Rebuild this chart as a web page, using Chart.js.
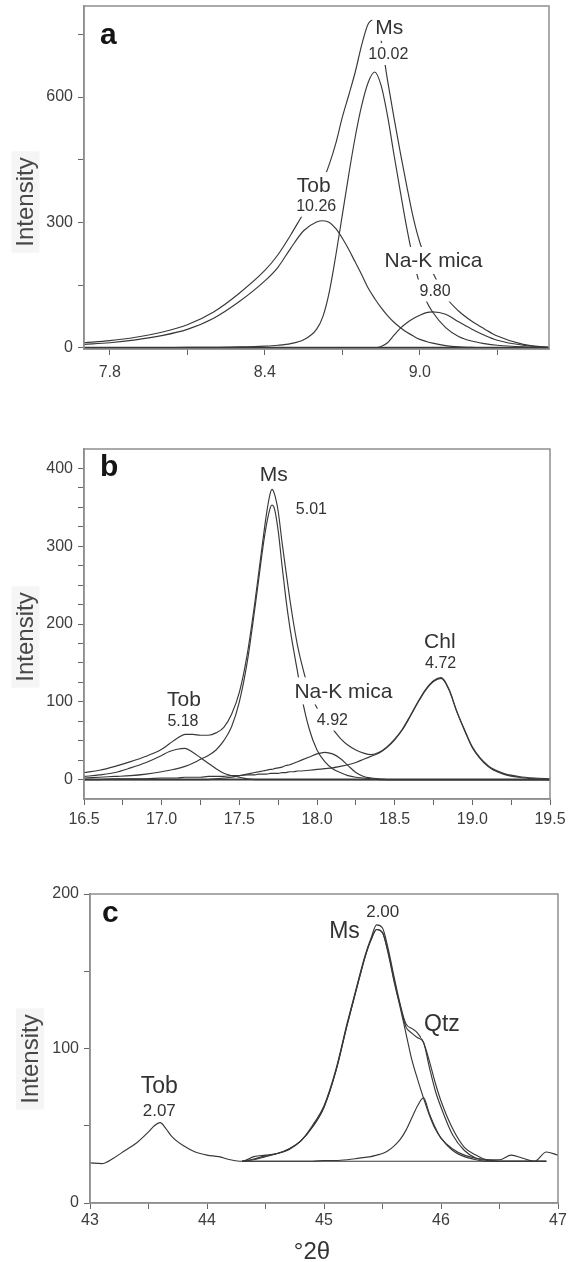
<!DOCTYPE html>
<html>
<head>
<meta charset="utf-8">
<script src="https://cdn.jsdelivr.net/npm/chart.js@4.4.0/dist/chart.umd.min.js"></script>
<style>
  body { margin: 0; background: #fff; }
  canvas { position: absolute; left: 0; }
</style>
</head>
<body>
<canvas id="chartA" width="573" height="400" style="top:0px"></canvas>
<canvas id="chartB" width="573" height="440" style="top:400px"></canvas>
<canvas id="chartC" width="573" height="422" style="top:840px"></canvas>
<script>
// ---- panel a (°2θ, intensity) ----
const aX = [7.70, 7.80, 7.90, 8.00, 8.10, 8.20, 8.30, 8.40, 8.45, 8.50, 8.55, 8.60, 8.625, 8.65, 8.675, 8.70, 8.725, 8.75, 8.775, 8.80, 8.825, 8.85, 8.875, 8.90, 8.925, 8.95, 8.975, 9.00, 9.025, 9.05, 9.10, 9.15, 9.20, 9.25, 9.30, 9.40, 9.50];
const aEnvelope = [12, 17, 25, 37, 55, 85, 130, 185, 222, 270, 322, 372, 400, 440, 490, 552, 605, 660, 725, 775, 785, 735, 640, 550, 465, 385, 310, 252, 212, 180, 122, 88, 64, 45, 28, 8, 1];
const aTob = [8, 12, 19, 29, 44, 70, 110, 160, 192, 238, 280, 301, 304, 300, 285, 262, 235, 205, 175, 143, 118, 96, 77, 61, 48, 37, 28, 20, 15, 11, 5, 2, 1, 0, 0, 0, 0];
const aMs = [0, 0, 0, 0, 1, 1, 2, 4, 6, 10, 19, 44, 75, 135, 222, 318, 415, 505, 580, 635, 660, 628, 555, 462, 372, 285, 210, 152, 112, 85, 48, 27, 16, 10, 6, 2, 0];
const aNaK = [0, 0, 0, 0, 0, 0, 0, 0, 0, 0, 0, 0, 0, 0, 0, 0, 0, 0, 0, 0, 0, 3, 12, 30, 47, 60, 70, 78, 84, 86, 80, 62, 45, 30, 18, 6, 1];
const aBaseX = [7.70, 9.50];
const aBase = [0, 0];
const aXTicks = [7.8, 8.1, 8.4, 8.7, 9.0, 9.3];
const aXLabels = [7.8, 8.4, 9.0];
const aYTicks = [0, 150, 300, 450, 600, 750];
const aYLabels = [0, 300, 600];
const aNotes = [
  { text: 'Ms', x: 8.882, y: 767, big: true },
  { text: '10.02', x: 8.878, y: 703 },
  { text: 'Tob', x: 8.589, y: 388, big: true },
  { text: '10.26', x: 8.599, y: 340 },
  { text: 'Na-K mica', x: 9.053, y: 209, big: true },
  { text: '9.80', x: 9.059, y: 137 }
];

// ---- panel b ----
const bX = [16.5, 16.6, 16.7, 16.8, 16.9, 17.0, 17.05, 17.1, 17.15, 17.2, 17.25, 17.3, 17.35, 17.4, 17.45, 17.5, 17.55, 17.6, 17.625, 17.65, 17.675, 17.7, 17.71, 17.725, 17.75, 17.775, 17.8, 17.825, 17.85, 17.875, 17.9, 17.95, 18.0, 18.05, 18.1, 18.15, 18.2, 18.25, 18.3, 18.35, 18.4, 18.45, 18.5, 18.55, 18.6, 18.65, 18.7, 18.75, 18.8, 18.85, 18.9, 18.95, 19.0, 19.1, 19.2, 19.3, 19.4, 19.5];
const bEnvelope = [9, 12, 17, 23, 30, 39, 46, 53, 58, 58, 57, 57, 60, 67, 84, 112, 160, 228, 266, 305, 342, 369, 373, 368, 345, 305, 268, 232, 200, 172, 150, 114, 92, 76, 65, 53, 44, 38, 34, 32, 35, 42, 52, 65, 82, 100, 116, 127, 131, 116, 88, 64, 42, 18, 8, 4, 2, 1];
const bMs = [2, 3, 4, 5, 7, 10, 12, 14, 17, 21, 26, 31, 38, 50, 68, 100, 150, 220, 258, 296, 328, 350, 353, 349, 320, 275, 232, 196, 166, 138, 108, 65, 38, 23, 14, 9, 5, 3, 2, 1, 0, 0, 0, 0, 0, 0, 0, 0, 0, 0, 0, 0, 0, 0, 0, 0, 0, 0];
const bTob = [4, 6, 9, 15, 22, 31, 36, 39, 40, 35, 28, 21, 14, 8, 5, 3, 1, 0, 0, 0, 0, 0, 0, 0, 0, 0, 0, 0, 0, 0, 0, 0, 0, 0, 0, 0, 0, 0, 0, 0, 0, 0, 0, 0, 0, 0, 0, 0, 0, 0, 0, 0, 0, 0, 0, 0, 0, 0];
const bNaK = [0, 0, 0, 0, 0, 0, 0, 0, 0, 0, 0, 0, 1, 2, 3, 5, 7, 9, 10, 11, 12, 13, 13, 14, 15, 16, 18, 19, 21, 23, 25, 29, 33, 35, 33, 27, 18, 9, 4, 2, 1, 0, 0, 0, 0, 0, 0, 0, 0, 0, 0, 0, 0, 0, 0, 0, 0, 0];
const bChl = [0, 0, 1, 1, 1, 2, 2, 2, 3, 3, 3, 4, 4, 4, 5, 5, 6, 6, 7, 7, 7, 8, 8, 8, 8, 9, 9, 10, 10, 11, 11, 12, 13, 14, 15, 17, 19, 22, 26, 30, 34, 41, 51, 64, 81, 99, 115, 126, 130, 115, 87, 63, 41, 17, 7, 3, 1, 0];
const bBaseX = [16.5, 19.5];
const bBase = [0, 0];
const bXTicks = [16.5, 16.75, 17.0, 17.25, 17.5, 17.75, 18.0, 18.25, 18.5, 18.75, 19.0, 19.25, 19.5];
const bXLabels = [16.5, 17.0, 17.5, 18.0, 18.5, 19.0, 19.5];
const bYTicks = [0, 25, 50, 75, 100, 125, 150, 175, 200, 225, 250, 275, 300, 325, 350, 375, 400];
const bYLabels = [0, 100, 200, 300, 400];
const bNotes = [
  { text: 'Ms', x: 17.722, y: 393, big: true },
  { text: '5.01', x: 17.964, y: 348 },
  { text: 'Tob', x: 17.143, y: 103, big: true },
  { text: '5.18', x: 17.137, y: 76 },
  { text: 'Na-K mica', x: 18.17, y: 114, big: true },
  { text: '4.92', x: 18.099, y: 77 },
  { text: 'Chl', x: 18.791, y: 178, big: true },
  { text: '4.72', x: 18.796, y: 151 }
];

// ---- panel c ----
const cX = [43.0, 43.1, 43.2, 43.3, 43.4, 43.5, 43.55, 43.6, 43.65, 43.7, 43.8, 43.9, 44.0, 44.1, 44.2, 44.3, 44.4, 44.5, 44.6, 44.7, 44.8, 44.9, 45.0, 45.1, 45.2, 45.3, 45.35, 45.4, 45.45, 45.5, 45.55, 45.6, 45.65, 45.7, 45.75, 45.8, 45.85, 45.9, 45.95, 46.0, 46.1, 46.2, 46.3, 46.4, 46.5, 46.6, 46.7, 46.8, 46.9, 47.0];
const cObserved = [26, 25.5, 29, 34, 39, 46, 50, 52, 48, 43, 37, 33, 31, 30, 28, 27, 30, 31, 32, 35, 40, 50, 63, 86, 117, 146, 160, 171, 180, 178, 164, 146, 129, 116, 113, 110, 104, 92, 78, 66, 48, 36, 31, 28, 28, 31, 29, 27, 33, 31];
const cFitted = [null, null, null, null, null, null, null, null, null, null, null, null, null, null, null, 27, 28.5, 30.5, 32, 35, 40, 49, 62, 85, 116, 145, 159, 170, 177, 175, 162, 144, 128, 114, 110, 107, 104, 88, 73, 62, 44, 34, 29, 27.5, 27, 27, 27, 27, 27, null];
const cMs = [null, null, null, null, null, null, null, null, null, null, null, null, null, null, null, 27, 28, 30, 32, 34.5, 40, 49, 62, 85, 116, 145, 159, 170, 177, 175, 161, 143, 127, 110, 93, 80, 68, 57, 48, 42, 34, 30, 28, 27, 27, 27, 27, 27, 27, null];
const cQtz = [null, null, null, null, null, null, null, null, null, null, null, null, null, null, null, 27, 27, 27, 27, 27, 27, 27, 27.5, 27.5, 28, 29, 29.5, 30, 31, 32, 34, 37, 41, 47, 55, 63, 68, 58, 49, 42, 35, 31, 29, 28, 27, 27, 27, 27, 27, null];
const cBgX = [44.3, 46.9];
const cBg = [27, 27];
const cXTicks = [43, 43.5, 44, 44.5, 45, 45.5, 46, 46.5, 47];
const cXLabels = [43, 44, 45, 46, 47];
const cYTicks = [0, 50, 100, 150, 200];
const cYLabels = [0, 100, 200];
const cNotes = [
  { text: '2.00', x: 45.502, y: 189, mid: true },
  { text: 'Ms', x: 45.175, y: 176, large: true },
  { text: 'Qtz', x: 46.008, y: 116, large: true },
  { text: 'Tob', x: 43.592, y: 76, large: true },
  { text: '2.07', x: 43.592, y: 60, mid: true }
];

const FONT = '"Liberation Sans", Arial, Helvetica, sans-serif';
const INK = '#383838';

function pts(xs, ys) {
  return xs.map((x, i) => ({ x: x, y: ys[i] }));
}

function line(xs, ys, w) {
  return {
    data: pts(xs, ys),
    borderColor: INK,
    borderWidth: w || 1.15,
    pointRadius: 0,
    fill: false,
    spanGaps: false,
    cubicInterpolationMode: 'monotone'
  };
}

const decor = {
  id: 'decor',
  beforeDatasetsDraw(chart, args, o) {
    const ctx = chart.ctx;
    const area = chart.chartArea;
    ctx.save();
    ctx.font = '24px ' + FONT;
    const w = ctx.measureText('Intensity').width;
    const cy = area.top + o.titleDy;
    ctx.fillStyle = '#f5f5f5';
    ctx.fillRect(o.titleX - 14, cy - w / 2 - 6, 28, w + 12);
    ctx.translate(o.titleX, cy);
    ctx.rotate(-Math.PI / 2);
    ctx.fillStyle = '#474747';
    ctx.textAlign = 'center';
    ctx.textBaseline = 'middle';
    ctx.fillText('Intensity', 0, 1);
    ctx.restore();
  },
  afterDatasetsDraw(chart, args, o) {
    const ctx = chart.ctx;
    const area = chart.chartArea;
    const xs = chart.scales.x, ys = chart.scales.y;
    ctx.save();
    ctx.textAlign = 'center';
    ctx.textBaseline = 'middle';
    o.notes.forEach(n => {
      let size = 16;
      if (n.big) size = 21;
      if (n.large) size = 23;
      if (n.mid) size = 17;
      ctx.font = size + 'px ' + FONT;
      const px = xs.getPixelForValue(n.x);
      const py = ys.getPixelForValue(n.y);
      const w = ctx.measureText(n.text).width;
      ctx.fillStyle = '#fff';
      ctx.fillRect(px - w / 2 - 3, py - size / 2 - 3, w + 6, size + 6);
      ctx.fillStyle = '#333';
      ctx.fillText(n.text, px, py + 1);
    });
    ctx.strokeStyle = '#8e8e8e';
    ctx.lineWidth = 1.5;
    ctx.strokeRect(area.left, area.top, area.right - area.left, area.bottom - area.top);
    ctx.font = 'bold 30px ' + FONT;
    ctx.textAlign = 'left';
    ctx.textBaseline = 'alphabetic';
    ctx.fillStyle = '#151515';
    ctx.fillText(o.letter, area.left + o.letterDx, area.top + o.letterDy);
    if (o.xTitle) {
      ctx.font = '24px ' + FONT;
      ctx.textAlign = 'center';
      ctx.textBaseline = 'middle';
      ctx.fillStyle = '#333';
      ctx.fillText(o.xTitle, o.xTitleX, o.xTitleY);
    }
    ctx.restore();
  }
};

function makeChart(id, p) {
  return new Chart(document.getElementById(id), {
    type: 'line',
    data: { datasets: p.datasets },
    plugins: [decor],
    options: {
      responsive: false,
      animation: false,
      devicePixelRatio: 1,
      events: [],
      layout: { padding: { left: 0, top: p.top, right: p.right, bottom: 0 } },
      scales: {
        x: {
          type: 'linear',
          min: p.xMin,
          max: p.xMax,
          afterBuildTicks: s => { s.ticks = p.xTicks.map(v => ({ value: v })); },
          afterFit: s => { s.height = p.xH; s.paddingLeft = 0; s.paddingRight = 0; },
          ticks: {
            autoSkip: false,
            maxRotation: 0,
            padding: p.xPad,
            color: '#3d3d3d',
            font: { family: FONT, size: 16 },
            callback: v => p.xLabels.includes(v) ? v.toFixed(p.xDec) : ''
          },
          grid: { drawOnChartArea: false, drawTicks: true, tickLength: 6, color: '#666', lineWidth: 1 },
          border: { display: true, color: '#8e8e8e', width: 1.5 }
        },
        y: {
          type: 'linear',
          min: p.yMin,
          max: p.yMax,
          afterBuildTicks: s => { s.ticks = p.yTicks.map(v => ({ value: v })); },
          afterFit: s => { s.width = p.yW; s.paddingTop = 0; s.paddingBottom = 0; },
          ticks: {
            autoSkip: false,
            padding: 5,
            color: '#3d3d3d',
            font: { family: FONT, size: 16 },
            callback: v => p.yLabels.includes(v) ? String(v) : ''
          },
          grid: { drawOnChartArea: false, drawTicks: true, tickLength: 6, color: '#666', lineWidth: 1 },
          border: { display: true, color: '#8e8e8e', width: 1.5 }
        }
      },
      plugins: {
        legend: { display: false },
        tooltip: { enabled: false },
        decor: p.decor
      }
    }
  });
}

makeChart('chartA', {
  datasets: [
    line(aBaseX, aBase, 2),
    line(aX, aEnvelope),
    line(aX, aTob),
    line(aX, aMs),
    line(aX, aNaK)
  ],
  top: 6, right: 24, xH: 51, yW: 84, xPad: 8,
  xMin: 7.7, xMax: 9.5, yMin: -3, yMax: 818,
  xTicks: aXTicks, xLabels: aXLabels, xDec: 1,
  yTicks: aYTicks, yLabels: aYLabels,
  decor: { notes: aNotes, letter: 'a', letterDx: 16, letterDy: 38, titleX: 25.5, titleDy: 196 }
});

makeChart('chartB', {
  datasets: [
    line(bBaseX, bBase, 2),
    line(bX, bEnvelope),
    line(bX, bMs),
    line(bX, bTob),
    line(bX, bNaK),
    line(bX, bChl)
  ],
  top: 49, right: 23, xH: 41, yW: 84, xPad: 5,
  xMin: 16.5, xMax: 19.5, yMin: -25, yMax: 425,
  xTicks: bXTicks, xLabels: bXLabels, xDec: 1,
  yTicks: bYTicks, yLabels: bYLabels,
  decor: { notes: bNotes, letter: 'b', letterDx: 16, letterDy: 27, titleX: 25.5, titleDy: 188 }
});

makeChart('chartC', {
  datasets: [
    line(cBgX, cBg),
    line(cX, cObserved),
    line(cX, cFitted),
    line(cX, cMs),
    line(cX, cQtz)
  ],
  top: 54, right: 15, xH: 59, yW: 90, xPad: 2,
  xMin: 43, xMax: 47, yMin: 0, yMax: 200,
  xTicks: cXTicks, xLabels: cXLabels, xDec: 0,
  yTicks: cYTicks, yLabels: cYLabels,
  decor: { notes: cNotes, letter: 'c', letterDx: 12, letterDy: 28, titleX: 30, titleDy: 165, xTitle: '°2θ', xTitleX: 312, xTitleY: 412 }
});
</script>
</body>
</html>
